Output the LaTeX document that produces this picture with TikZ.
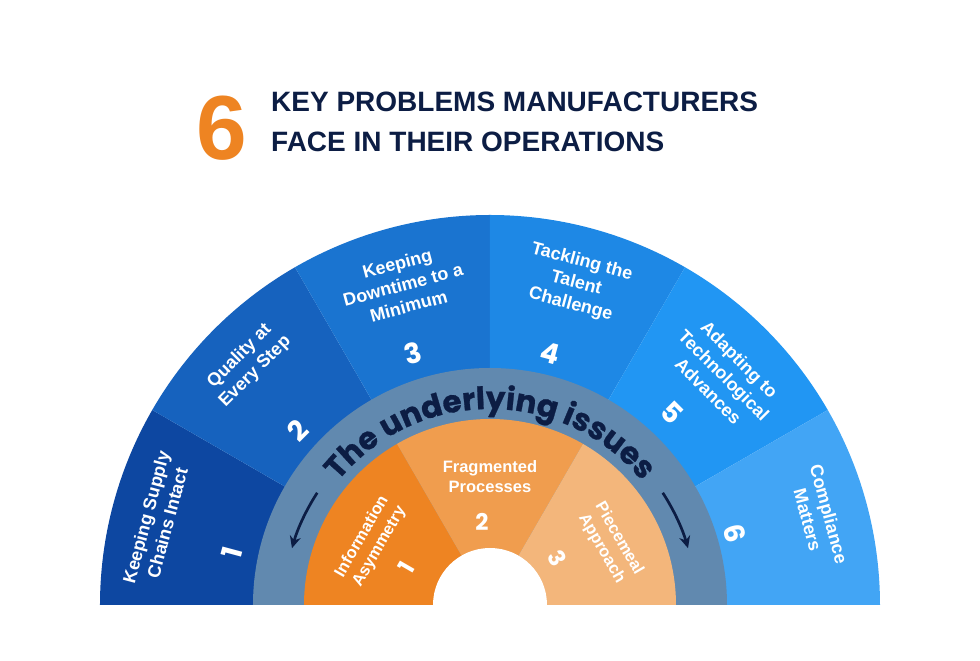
\documentclass[tikz,border=0pt]{standalone}
\usepackage{fontspec}
\setmainfont{Liberation Sans}
\newfontfamily\popfont[BoldFeatures={FakeBold=0.8}]{Poppins}
\newfontfamily\popnum{Poppins}
\usetikzlibrary{decorations.text,arrows.meta}
\definecolor{navy}{HTML}{0C1D44}
\definecolor{sixor}{HTML}{EE8422}
\definecolor{bA}{HTML}{0D47A1}
\definecolor{bB}{HTML}{1662BE}
\definecolor{bC}{HTML}{1A74D0}
\definecolor{bD}{HTML}{1E88E5}
\definecolor{bE}{HTML}{2196F3}
\definecolor{bF}{HTML}{42A5F5}
\definecolor{ring}{HTML}{6189AF}
\definecolor{oA}{HTML}{EE8422}
\definecolor{oB}{HTML}{F09D4E}
\definecolor{oC}{HTML}{F3B67B}
\tikzset{
  olabel/.style={text=white, font=\bfseries\fontsize{18}{22}\selectfont, align=center, inner sep=0pt},
  onum/.style={text=white, font=\popnum\bfseries\fontsize{28}{28}\selectfont, inner sep=0pt},
  ilabel/.style={text=white, font=\bfseries\fontsize{16.5}{20}\selectfont, align=center, inner sep=0pt},
  inum/.style={text=white, font=\popnum\bfseries\fontsize{23}{23}\selectfont, inner sep=0pt},
  ttl/.style={text=navy, font=\bfseries\fontsize{28}{34}\selectfont, anchor=base west, inner sep=0pt},
  ringarrow/.style={navy, line width=2.7pt, -{Stealth[length=12pt,width=11pt]}}
}
\begin{document}
\begin{tikzpicture}[x=1pt,y=1pt]
\useasboundingbox (-490,-56) rectangle (490,605);
\fill[white] (-490,-56) rectangle (490,605);
% title
\node[text=sixor, font=\bfseries\fontsize{91}{91}\selectfont, anchor=base west, inner sep=0pt] (six) at (-294,445) {6};
\node[ttl] (t1) at (-219,493) {KEY PROBLEMS MANUFACTURERS};
\node[ttl] (t2) at (-219,453) {FACE IN THEIR OPERATIONS};
% outer wedges
\fill[bA] (0,0) -- (180:390) arc[start angle=180,end angle=150,radius=390] -- cycle;
\fill[bB] (0,0) -- (150:390) arc[start angle=150,end angle=120,radius=390] -- cycle;
\fill[bC] (0,0) -- (120:390) arc[start angle=120,end angle=90,radius=390] -- cycle;
\fill[bD] (0,0) -- (90:390) arc[start angle=90,end angle=60,radius=390] -- cycle;
\fill[bE] (0,0) -- (60:390) arc[start angle=60,end angle=30,radius=390] -- cycle;
\fill[bF] (0,0) -- (30:390) arc[start angle=30,end angle=0,radius=390] -- cycle;
% ring
\fill[ring] (-237,0) arc[start angle=180,end angle=0,radius=237] -- cycle;
% inner wedges
\fill[oA] (0,0) -- (180:186) arc[start angle=180,end angle=120,radius=186] -- cycle;
\fill[oB] (0,0) -- (120:186) arc[start angle=120,end angle=60,radius=186] -- cycle;
\fill[oC] (0,0) -- (60:186) arc[start angle=60,end angle=0,radius=186] -- cycle;
\fill[white] (-57,0) arc[start angle=180,end angle=0,radius=57] -- cycle;
% outer labels
\node[olabel, rotate=75] (l1) at (165.7:344) {Keeping Supply\\Chains Intact};
\node[olabel, rotate=45] (l2) at (135.2:342) {Quality at\\Every Step};
\node[olabel, rotate=15] (l3) at (105.2:332) {Keeping\\Downtime to a\\Minimum};
\node[olabel, rotate=-15] (l4) at (75:333) {Tackling the\\Talent\\Challenge};
\node[olabel, rotate=-45] (l5) at (44.5:328) {Adapting to\\Technological\\Advances};
\node[olabel, rotate=-75] (l6) at (15:340) {Compliance\\Matters};
\node[onum, rotate=75] (n1) at (168.6:263) {1};
\node[onum, rotate=45] (n2) at (137.8:260) {2};
\node[onum, rotate=15] (n3) at (107:263) {3};
\node[onum, rotate=-15] (n4) at (76.6:259) {4};
\node[onum, rotate=-45] (n5) at (46.5:265) {5};
\node[onum, rotate=-75] (n6) at (16.4:255) {6};
% inner labels
\node[ilabel, rotate=60] (i1) at (152:135) {Information\\Asymmetry};
\node[ilabel] (i2) at (0,128) {Fragmented\\Processes};
\node[ilabel, rotate=-60] (i3) at (27:135) {Piecemeal\\Approach};
\node[inum, rotate=60] (m1) at (156:91) {1};
\node[inum] (m2) at (-8,83) {2};
\node[inum, rotate=-60] (m3) at (35:82) {3};
% curved title
\path[decorate, decoration={text along path, text align=center, text color=navy,
  text={|\popfont\bfseries\fontsize{31}{31}\selectfont|The underlying issues}}]
  (178:196) arc[start angle=178,end angle=2,radius=196];
% arrows
\coordinate (aLs) at (147:206);
\coordinate (aRs) at (33:206);
\draw[ringarrow] (aLs) arc[start angle=147,end angle=164,radius=206];
\draw[ringarrow] (aRs) arc[start angle=33,end angle=16,radius=206];
\end{tikzpicture}
\end{document}
